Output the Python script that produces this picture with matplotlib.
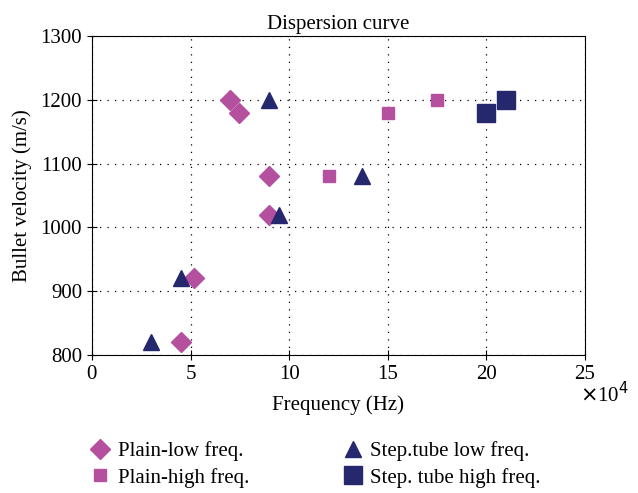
import matplotlib.pyplot as plt

plt.rcParams['font.family'] = ['Liberation Serif', 'DejaVu Serif']

# frequency in units of 1e4 Hz, velocity in m/s
plain_low_f = [7.0, 7.47, 9.0, 9.0, 5.2, 4.5]
plain_low_v = [1200, 1180, 1080, 1020, 920, 820]

plain_high_f = [15.0, 17.5, 12.0]
plain_high_v = [1180, 1200, 1080]

step_low_f = [9.0, 13.7, 9.5, 4.5, 3.0]
step_low_v = [1200, 1080, 1020, 920, 820]

step_high_f = [20.0, 21.0]
step_high_v = [1180, 1200]

pink = '#B5509F'
navy = '#26286E'

fig = plt.figure(figsize=(6.38, 4.93), dpi=100)
ax = fig.add_axes([0.144, 0.280, 0.773, 0.647])

ax.plot(plain_low_f, plain_low_v, 'D', color=pink, markersize=10, label='Plain-low freq.', zorder=3)
ax.plot(plain_high_f, plain_high_v, 's', color=pink, markersize=9, label='Plain-high freq.', zorder=3)
ax.plot(step_low_f, step_low_v, '^', color=navy, markersize=12, label='Step.tube low freq.', zorder=3)
ax.plot(step_high_f, step_high_v, 's', color=navy, markersize=12.5, label='Step. tube high freq.', zorder=3)

ax.set_xlim(0, 25)
ax.set_ylim(800, 1300)
ax.set_xticks([0, 5, 10, 15, 20, 25])
ax.set_yticks([800, 900, 1000, 1100, 1200, 1300])
ax.grid(True, linestyle=(0, (1, 5)), color='black', linewidth=0.9)
ax.tick_params(direction='inout', length=7, labelsize=15, right=False, top=False)

ax.set_title('Dispersion curve', fontsize=15, pad=5)
ax.set_xlabel('Frequency (Hz)', fontsize=15, labelpad=8)
ax.set_ylabel('Bullet velocity (m/s)', fontsize=15, labelpad=6)
ax.text(0.99, -0.085, r'$\times$10$^4$', transform=ax.transAxes, fontsize=15,
        ha='left', va='top')

h, l = ax.get_legend_handles_labels()
fig.legend(h, l, loc='lower left', bbox_to_anchor=(0.11, -0.027), ncol=2, frameon=False,
           fontsize=15, columnspacing=4.4, handletextpad=0.3, labelspacing=0.3,
           handlelength=1.1)

fig.savefig('out.png', dpi=100)
